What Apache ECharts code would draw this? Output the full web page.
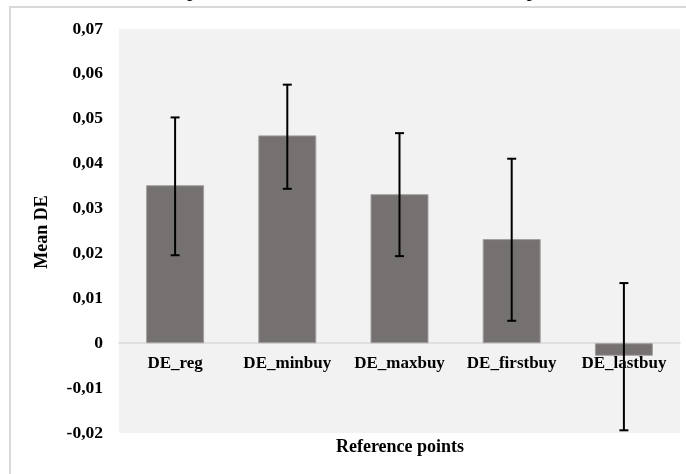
<!DOCTYPE html>
<html>
<head>
<meta charset="utf-8">
<style>
html,body{margin:0;padding:0;background:#fff;}
#chart{width:686px;height:474px;}
</style>
<script src="https://cdn.jsdelivr.net/npm/echarts@6/dist/echarts.min.js"></script>
</head>
<body>
<div id="chart"></div>
<script>
var categories = ['DE_reg', 'DE_minbuy', 'DE_maxbuy', 'DE_firstbuy', 'DE_lastbuy'];
var meanDE = [0.0352, 0.0463, 0.0332, 0.0232, -0.0028];
var errLow = [0.0196, 0.0344, 0.0194, 0.0050, -0.0194];
var errHigh = [0.0503, 0.0576, 0.0468, 0.0411, 0.0134];
var yTicks = { min: -0.02, max: 0.07, interval: 0.01 };
var titleText = 'Mean disposition effects for different reference points';
var yTitle = 'Mean DE';
var xTitle = 'Reference points';

var FONT = '"Liberation Serif", "Times New Roman", serif';
var chart = echarts.init(document.getElementById('chart'));

var errData = categories.map(function (c, i) { return [i, errLow[i], errHigh[i]]; });
var labelData = categories.map(function (c, i) { return [i, 0]; });

chart.setOption({
  animation: false,
  backgroundColor: '#ffffff',
  grid: { left: 119, right: 6, top: 29, bottom: 41, show: true, backgroundColor: '#f2f2f2', borderWidth: 0 },
  xAxis: {
    type: 'category',
    data: categories,
    axisLine: { onZero: true, lineStyle: { color: '#d9d9d9', width: 1.5 } },
    axisTick: { show: false },
    axisLabel: { show: false },
    splitLine: { show: false }
  },
  yAxis: {
    type: 'value',
    min: yTicks.min, max: yTicks.max, interval: yTicks.interval,
    axisLine: { show: false },
    axisTick: { show: false },
    splitLine: { show: false },
    axisLabel: {
      color: '#000', fontFamily: FONT, fontWeight: 'bold', fontSize: 17.5, margin: 16,
      formatter: function (v) {
        var r = Math.round(v * 100) / 100;
        if (r === 0) return '0';
        return r.toFixed(2).replace('.', ',');
      }
    }
  },
  series: [
    {
      type: 'bar',
      data: meanDE,
      barWidth: 58,
      itemStyle: { color: '#767171', borderColor: '#a29e9e', borderWidth: 1 }
    },
    {
      type: 'custom',
      data: labelData,
      z: 8,
      silent: true,
      renderItem: function (params, api) {
        var p = api.coord([api.value(0), api.value(1)]);
        return {
          type: 'text',
          x: p[0], y: p[1] + 20,
          style: {
            text: categories[params.dataIndex],
            font: 'bold 17px ' + FONT, fill: '#000',
            textAlign: 'center', textVerticalAlign: 'middle'
          }
        };
      }
    },
    {
      type: 'custom',
      data: errData,
      z: 10,
      renderItem: function (params, api) {
        var x = api.value(0);
        var lo = api.coord([x, api.value(1)]);
        var hi = api.coord([x, api.value(2)]);
        var hw = 4.5;
        var st = { stroke: '#000', lineWidth: 2 };
        return {
          type: 'group',
          children: [
            { type: 'line', shape: { x1: lo[0], y1: lo[1], x2: hi[0], y2: hi[1] }, style: st },
            { type: 'line', shape: { x1: lo[0] - hw, y1: lo[1], x2: lo[0] + hw, y2: lo[1] }, style: st },
            { type: 'line', shape: { x1: hi[0] - hw, y1: hi[1], x2: hi[0] + hw, y2: hi[1] }, style: st }
          ]
        };
      }
    }
  ],
  graphic: [
    {
      type: 'rect', silent: true, z: -1,
      shape: { x: 10, y: 7, width: 700, height: 500 },
      style: { fill: 'none', stroke: '#d9d9d9', lineWidth: 2 }
    },
    {
      type: 'text', left: 'center', top: -21,
      style: { text: titleText, font: '22px ' + FONT, fill: '#000' }
    },
    {
      type: 'text', z: 5,
      x: 400, y: 447,
      style: { text: xTitle, font: 'bold 18px ' + FONT, fill: '#000', textAlign: 'center', textVerticalAlign: 'middle' }
    },
    {
      type: 'text', z: 5,
      x: 42, y: 232, rotation: Math.PI / 2,
      style: { text: yTitle, font: 'bold 18px ' + FONT, fill: '#000', textAlign: 'center', textVerticalAlign: 'middle' }
    }
  ]
});
</script>
</body>
</html>
